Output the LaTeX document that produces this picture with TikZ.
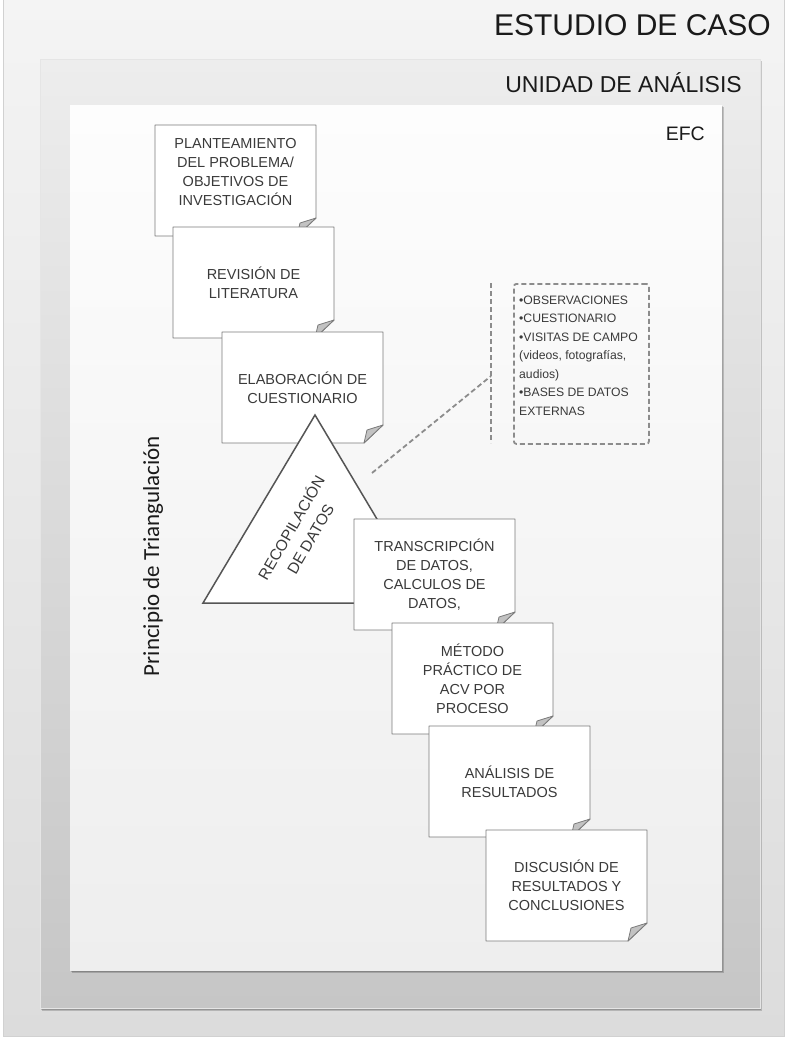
\documentclass[tikz,border=0pt]{standalone}
\usepackage{fontspec}
\setmainfont{Liberation Sans}
\newfontfamily\calibrifont{Carlito}
\usetikzlibrary{calc}

\definecolor{outerTop}{HTML}{F4F4F4}
\definecolor{outerBot}{HTML}{DCDCDC}
\definecolor{midTop}{HTML}{EDEDED}
\definecolor{midBot}{HTML}{C6C6C6}
\definecolor{innerTop}{HTML}{FDFDFD}
\definecolor{innerBot}{HTML}{EEEEEE}
\definecolor{headink}{HTML}{1A1A1A}
\definecolor{cardink}{HTML}{3A3A3A}
\definecolor{cardline}{HTML}{7A7A7A}
\definecolor{foldgray}{HTML}{C2C2C2}
\definecolor{triline}{HTML}{555555}
\definecolor{dashgray}{HTML}{8C8C8C}

\tikzset{
  cardedge/.style={fill=white, draw=cardline, line width=0.9pt, line join=round},
  foldedge/.style={fill=foldgray, draw=cardline, line width=0.8pt, line join=round},
  cardtext/.style={align=center, text=cardink, inner sep=0pt,
    font=\fontsize{14.5}{19}\selectfont},
  headtext/.style={text=headink, inner sep=0pt},
  softshadow/.style={fill=black, opacity=0.18},
  dashedlink/.style={draw=dashgray, line width=1.8pt, dash pattern=on 5pt off 3pt},
  srcbox/.style={draw=dashgray, line width=1.8pt, dash pattern=on 5pt off 3pt,
    rounded corners=2.5pt, inner sep=0pt},
  srctext/.style={align=left, text=cardink, inner sep=0pt,
    font=\fontsize{12.2}{18.5}\selectfont},
}

% a sheet of paper with a dog-eared lower right corner
% #1 name, #2 left, #3 top, #4 text offset (down), #5 text
\newcommand\notecard[5]{%
  \begin{scope}[shift={(#2,#3)}]
    \draw[cardedge] (0,0) -- (161,0) -- (161,93) -- (142,111) -- (0,111) -- cycle;
    \draw[foldedge] (161,93) .. controls (153,95) .. (145,98)
      .. controls (144,104) .. (142,111) -- cycle;
    \node[cardtext] (#1) at (80.5,{55.5+#4}) {#5};
  \end{scope}}

\begin{document}
\begin{tikzpicture}[x=1pt,y=-1pt]
  \useasboundingbox (0,0) rectangle (787,1039);
  \fill[white] (0,0) rectangle (787,1039);

  % nested panels
  \shade[top color=outerTop, bottom color=outerBot, draw=black!18, line width=0.8pt]
    (3,-2) rectangle (784,1036);

  \fill[softshadow] (41.5,61) rectangle (762,1010.5);
  \fill[softshadow] (40.5,60) rectangle (761,1009.5);
  \shade[top color=midTop, bottom color=midBot, draw=black!10, line width=0.5pt]
    (40,59) rectangle (760,1008);

  \fill[softshadow] (71.5,106.5) rectangle (724,972.5);
  \fill[softshadow] (70.5,105.5) rectangle (723,971.5);
  \shade[top color=innerTop, bottom color=innerBot] (70,105) rectangle (722,970);

  % headings
  \node[headtext, anchor=base east, font=\fontsize{30}{36}\selectfont]
    (estudio) at (771,35) {ESTUDIO DE CASO};
  \node[headtext, anchor=base east, font=\fontsize{23}{28}\selectfont]
    (unidad) at (742,92) {UNIDAD DE ANÁLISIS};
  \node[headtext, anchor=base east, font=\fontsize{19.5}{24}\selectfont]
    (efc) at (705,140) {EFC};

  % side label
  \node[headtext, rotate=90, font=\calibrifont\fontsize{23}{27}\selectfont]
    (triang) at (153,556) {Principio de Triangulación};

  % research steps
  \notecard{plant}{155}{125}{-8}{PLANTEAMIENTO\\DEL PROBLEMA/\\OBJETIVOS DE\\INVESTIGACIÓN}
  \notecard{revision}{173}{227}{0}{REVISIÓN DE\\LITERATURA}
  \notecard{elab}{222}{332}{0}{ELABORACIÓN DE\\CUESTIONARIO}

  % data collection triangle
  \coordinate (apex) at (315,415);
  \coordinate (baseL) at (203,603);
  \coordinate (baseR) at (427,603);
  \draw[fill=white, draw=triline, line width=1.5pt, line join=miter]
    (apex) -- (baseL) -- (baseR) -- cycle;
  \node[cardtext, rotate=60, font=\fontsize{15.5}{22}\selectfont]
    (recop) at (300,533) {RECOPILACIÓN\\DE DATOS};

  \notecard{transc}{354}{519}{0}{TRANSCRIPCIÓN\\DE DATOS,\\CALCULOS DE\\DATOS,}
  \notecard{metodo}{392}{623}{0}{MÉTODO\\PRÁCTICO DE\\ACV POR\\PROCESO}
  \notecard{analisis}{429}{726}{0}{ANÁLISIS DE\\RESULTADOS}
  \notecard{discusion}{486}{830}{0}{DISCUSIÓN DE\\RESULTADOS Y\\CONCLUSIONES}

  % data sources
  \node[srcbox, minimum width=135pt, minimum height=160pt, anchor=north west]
    (fuentes) at (513,283) {};
  \node[srctext, anchor=north west] (fuentestxt) at (519,295.5)
    {•OBSERVACIONES\\•CUESTIONARIO\\•VISITAS DE CAMPO\\(videos, fotografías,\\audios)\\•BASES DE DATOS\\EXTERNAS};

  \coordinate (brTop) at (491,283);
  \coordinate (brBot) at (491,443);
  \coordinate (brMid) at (491,376);
  \coordinate (tap) at (372,473);
  \draw[dashedlink] (brTop) -- (brBot);
  \draw[dashedlink] (tap) -- (brMid);
\end{tikzpicture}
\end{document}
